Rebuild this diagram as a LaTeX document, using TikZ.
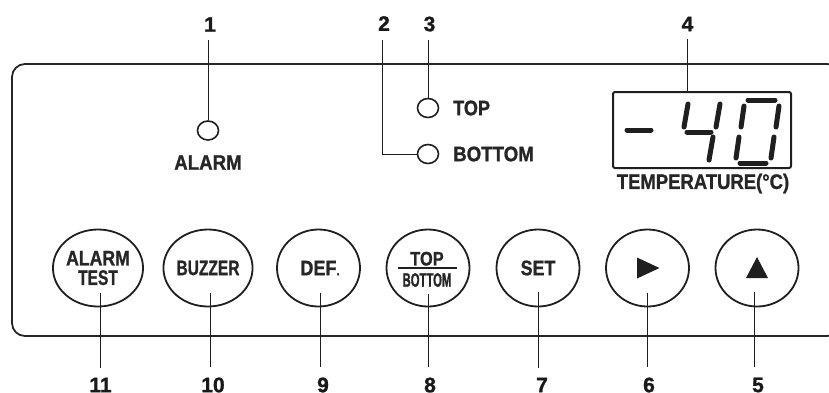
\documentclass[tikz,border=0pt]{standalone}
\usepackage{fontspec}
\setmainfont{Liberation Sans}[BoldFeatures={FakeBold=1.2}]
\usepackage{graphicx}
\usetikzlibrary{shapes.geometric}
\newcommand{\hsq}[2]{\scalebox{#1}[1]{#2}}
\begin{document}
\begin{tikzpicture}[x=1pt,y=-1pt,
  num/.style={font=\fontsize{21}{21}\selectfont\bfseries, inner sep=0pt, text=black!90},
  lbl/.style={font=\fontsize{21}{21}\selectfont\bfseries, inner sep=0pt, text=black!85},
  led/.style={draw=black!88, ellipse, minimum width=21pt, minimum height=19pt, inner sep=0pt, line width=1.6pt},
  btn/.style={draw=black!88, ellipse, minimum width=83pt, minimum height=77pt, inner sep=0pt, line width=1.8pt,
              font=\fontsize{21}{19.5}\selectfont\bfseries, align=center, text=black!85},
  btxt/.style={inner sep=0pt, font=\fontsize{19.5}{19.5}\selectfont\bfseries, text=black!85},
  leader/.style={draw=black!88, line width=0.9pt},
  seg/.style={draw=black!88, line width=5pt, line cap=round}
]
\useasboundingbox (0,0) rectangle (829,392);
\clip (0,0) rectangle (829,392);

% panel
\draw[draw=black!85, line width=1.8pt, rounded corners=13pt] (12,64) rectangle (840,336);

% LEDs and labels
\node[led] (ledA) at (208,130.5) {};
\node[lbl] (tA) at (208,162.5) {\hsq{0.89}{ALARM}};
\node[led] (ledT) at (428,108) {};
\node[led] (ledB) at (428,154) {};
\node[lbl, anchor=west] (tT) at (453,108) {\hsq{0.86}{TOP}};
\node[lbl, anchor=west] (tB) at (453,154) {\hsq{0.89}{BOTTOM}};

% display
\node[draw=black!88, line width=2pt, rounded corners=2pt, minimum width=178pt, minimum height=76pt, inner sep=0pt] (disp) at (702,130) {};
\node[lbl] (tTemp) at (703,183.5) {\hsq{0.88}{TEMPERATURE(°C)}};
% seven-segment digits "-40"
\draw[seg] (627,130) -- (651,130);
\draw[seg] (688,104) -- (684,127);
\draw[seg] (687,132) -- (711,132);
\draw[seg] (720,104) -- (716,127);
\draw[seg] (713,137) -- (709,160);
\draw[seg] (748,100) -- (775,100);
\draw[seg] (744,106) -- (741,127);
\draw[seg] (739,137) -- (736,158);
\draw[seg] (740,163) -- (766,163);
\draw[seg] (779,106) -- (776,127);
\draw[seg] (774,137) -- (771,158);

% top numbers
\node[num] (n1) at (210,24.5) {1};
\node[num] (n2) at (384,23.5) {2};
\node[num] (n3) at (429.5,24) {3};
\node[num] (n4) at (687.5,24) {4};
\draw[leader, shorten <=8pt] (n1.south -| ledA.north) -- (ledA.north);
\coordinate (k2) at (382,40);
\draw[leader] (k2) |- (ledB.west);
\draw[leader, shorten <=8pt] (n3.south -| ledT.north) -- (ledT.north);
\draw[leader, shorten <=8pt] (n4.south) -- (n4.south |- disp.north);

% buttons
\node[btn] (b11) at (98,268) {\hsq{0.84}{ALARM}\\\hsq{0.74}{TEST}};
\node[btn] (b10) at (208,268) {\hsq{0.74}{BUZZER}};
\node[btn] (b9) at (318.5,268) {\hspace*{3pt}\hsq{0.86}{DEF{\fontsize{13}{13}\selectfont.}}};
\node[btn] (b8) at (428,268) {};
\node[btn] (b7) at (538,268) {\hsq{0.85}{SET}};
\node[btn] (b6) at (647.5,268) {};
\node[btn] (b5) at (757,268) {};

\node[btxt] (t8a) at (427,258.7) {\hsq{0.84}{TOP}};
\node[btxt] (t8b) at (427,280) {\hsq{0.58}{BOTTOM}};
\draw[line width=1.6pt, black!88] ([xshift=-30pt]b8.center) -- ([xshift=29pt]b8.center);

\fill[black!88] (b6.center) ++(-10.5,-10.5) -- ++(0,21) -- ++(22.5,-10.5) -- cycle;
\fill[black!88] (b5.center) ++(-11,10) -- ++(22,0) -- ++(-11,-21) -- cycle;

% bottom numbers and leaders
\node[num] (n11) at (100.5,385) {11};
\node[num] (n10) at (213,385) {10};
\node[num] (n9) at (323,385) {9};
\node[num] (n8) at (430,385) {8};
\node[num] (n7) at (542,385) {7};
\node[num] (n6) at (649,385) {6};
\node[num] (n5) at (758,385) {5};
\coordinate (k11) at (100,293);
\coordinate (k10) at (210,293);
\coordinate (k9) at (320,293);
\coordinate (k8) at (428,294);
\coordinate (k7) at (538,292);
\coordinate (k6) at (647,293);
\coordinate (k5) at (754,292);
\foreach \i in {11,10,9,8,7,6,5}{
  \draw[leader, shorten >=10pt] (k\i) -- (k\i |- n\i.north);
}
\end{tikzpicture}
\end{document}
